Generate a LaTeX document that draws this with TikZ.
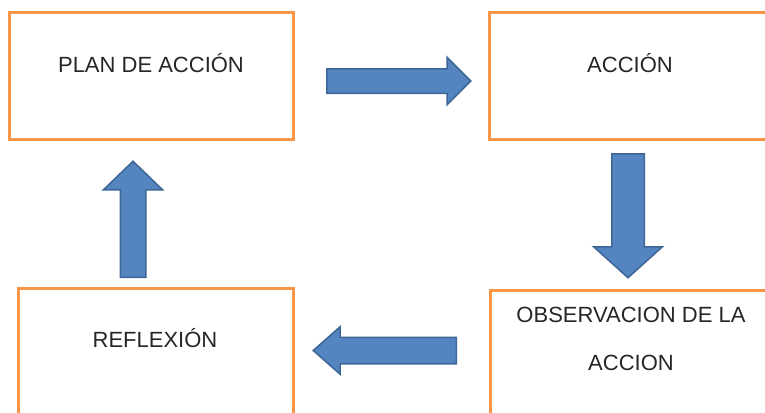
\documentclass[tikz,border=0pt]{standalone}
\usepackage{fontspec}
\setmainfont{Liberation Sans}
\usetikzlibrary{shapes.arrows}

\definecolor{boxorange}{HTML}{F79646}
\definecolor{arrowfill}{HTML}{5485C0}
\definecolor{arrowline}{HTML}{3D6596}

\begin{document}
\begin{tikzpicture}[x=1pt, y=-1pt,
  every node/.style={font=\fontsize{22}{48}\selectfont, text=black!85},
  stagebox/.style={draw=boxorange, line width=3pt, minimum width=#1, minimum height=126pt, inner sep=0pt},
  blockarrow/.style={single arrow, draw=arrowline, fill=arrowfill, line width=1.5pt,
    text width=0pt, anchor=tail}]

\useasboundingbox (0, 0) rectangle (765, 412);
\clip (0, 0) rectangle (765, 412);

% Boxes
\node[stagebox=284pt] (plan) at (151, 76) {};
\node[stagebox=282pt] (accion) at (630, 76) {};
\node[stagebox=275pt] (reflexion) at (155.5, 351) {};
\node[stagebox=282pt] (observacion) at (631, 353) {};

% Texts (sitting in the upper part of each box)
\node[anchor=base] (plantxt) at (151, 72) {PLAN DE ACCIÓN};
\node[anchor=base] (acciontxt) at (630, 72) {ACCIÓN};
\node[anchor=base] (reflexiontxt) at (155, 347) {REFLEXIÓN};
\node[anchor=base, align=center] (observaciontxt) at (631, 370) {OBSERVACION DE LA\\ACCION};

% Block arrows (placed by their tails)
\node[blockarrow, inner sep=11.5pt, minimum height=144pt, minimum width=46pt,
  single arrow head extend=11.5pt, single arrow tip angle=90] (toaccion) at (326, 81) {};
\node[blockarrow, shape border rotate=270, inner sep=15.5pt, minimum height=124pt, minimum width=67pt,
  single arrow head extend=18pt, single arrow tip angle=96] (toobservacion) at (628, 153) {};
\node[blockarrow, shape border rotate=180, inner sep=12.5pt, minimum height=143pt, minimum width=46pt,
  single arrow head extend=10.5pt, single arrow tip angle=83] (toreflexion) at (457, 350.5) {};
\node[blockarrow, shape border rotate=90, inner sep=12pt, minimum height=116pt, minimum width=58pt,
  single arrow head extend=17pt, single arrow tip angle=92] (toplan) at (133, 278) {};

\end{tikzpicture}
\end{document}
